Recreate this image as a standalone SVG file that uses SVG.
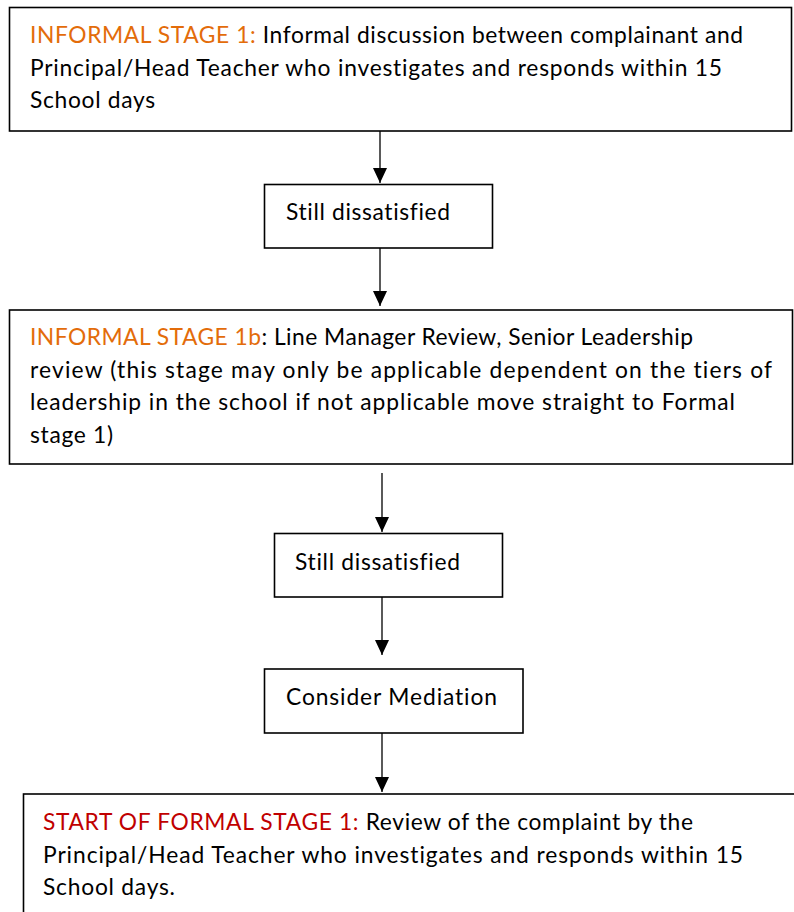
<svg xmlns="http://www.w3.org/2000/svg" width="794" height="912" viewBox="0 0 794 912">
<defs>
<style>
.box{fill:#fff;stroke:#000;stroke-width:1.6}
.t{font-family:Lato,"Open Sans","Liberation Sans",sans-serif;font-size:22.8px;fill:#000;font-variant-ligatures:none}
.or{fill:#E36C0A}
.rd{fill:#C00000}
.c{stroke:#000;stroke-width:1.3;fill:none}
</style>
<marker id="ah" viewBox="0 -7 15 14" markerWidth="15" markerHeight="14" refX="15" refY="0" markerUnits="userSpaceOnUse" orient="auto">
<path d="M0,-7 L15,0 L0,7 z" fill="#000"/>
</marker>
</defs>
<rect width="794" height="912" fill="#fff"/>
<g id="connectors">
<line class="c" x1="380" y1="125" x2="380" y2="183" marker-end="url(#ah)"/>
<line class="c" x1="380" y1="248" x2="380" y2="306" marker-end="url(#ah)"/>
<line class="c" x1="382" y1="473" x2="382" y2="532" marker-end="url(#ah)"/>
<line class="c" x1="382" y1="597" x2="382" y2="655" marker-end="url(#ah)"/>
<line class="c" x1="382" y1="733" x2="382" y2="792" marker-end="url(#ah)"/>
</g>
<g id="informal-stage-1">
<rect class="box" x="9.5" y="7.5" width="782" height="123.5"/>
<text class="t" x="30" y="43" textLength="713"><tspan class="or">INFORMAL STAGE 1:</tspan> Informal discussion between complainant and</text>
<text class="t" x="30" y="75.5" textLength="692">Principal/Head Teacher who investigates and responds within 15</text>
<text class="t" x="30" y="108" textLength="125">School days</text>
</g>
<g id="still-dissatisfied-1">
<rect class="box" x="264.5" y="184.5" width="228" height="63.5"/>
<text class="t" x="286" y="220" textLength="164">Still dissatisfied</text>
</g>
<g id="informal-stage-1b">
<rect class="box" x="9.5" y="310" width="783" height="154"/>
<text class="t" x="30" y="345" textLength="663"><tspan class="or">INFORMAL STAGE 1b</tspan>: Line Manager Review, Senior Leadership</text>
<text class="t" x="30" y="377.5" textLength="742">review (this stage may only be applicable dependent on the tiers of</text>
<text class="t" x="30" y="410" textLength="705">leadership in the school if not applicable move straight to Formal</text>
<text class="t" x="30" y="442.5" textLength="83">stage 1)</text>
</g>
<g id="still-dissatisfied-2">
<rect class="box" x="274.5" y="533.5" width="228" height="63.5"/>
<text class="t" x="295" y="570" textLength="165">Still dissatisfied</text>
</g>
<g id="consider-mediation">
<rect class="box" x="264.5" y="669" width="258.5" height="64"/>
<text class="t" x="286" y="705" textLength="211">Consider Mediation</text>
</g>
<g id="formal-stage-1">
<rect class="box" x="23.5" y="794" width="800" height="200"/>
<text class="t" x="43" y="830" textLength="650"><tspan class="rd">START OF FORMAL STAGE 1:</tspan> Review of the complaint by the</text>
<text class="t" x="43" y="862.5" textLength="700">Principal/Head Teacher who investigates and responds within 15</text>
<text class="t" x="43" y="895" textLength="132">School days.</text>
</g>
</svg>
